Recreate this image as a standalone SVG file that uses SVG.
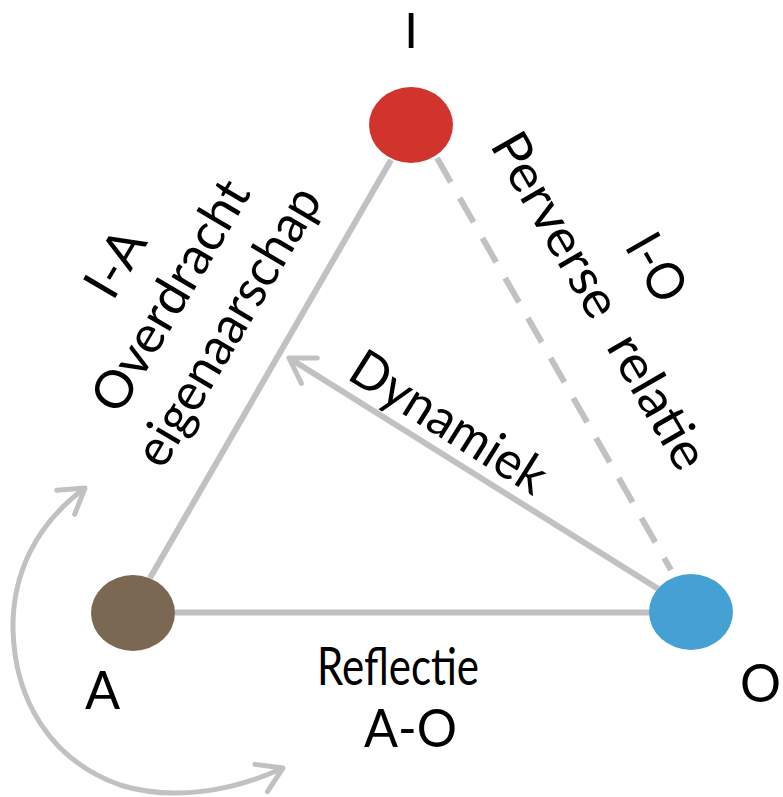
<svg xmlns="http://www.w3.org/2000/svg" width="783" height="797" viewBox="0 0 783 797">
<style>
.lbl{font-family:Lato,"Open Sans","DejaVu Sans",sans-serif;font-size:52px;fill:#000;}
.edge{stroke:#c0c1c3;stroke-width:6;fill:none;}
.thin{stroke:#c0c1c3;stroke-width:5;fill:none;}
</style>
<defs>
<marker id="chev" viewBox="-30 -20 40 40" markerWidth="40" markerHeight="40" refX="0" refY="0" orient="auto" markerUnits="userSpaceOnUse">
<path d="M -24 -15 L 0 0 L -24 15" fill="none" stroke="#c0c1c3" stroke-width="5" stroke-linecap="round" stroke-linejoin="round"/>
</marker>
<marker id="chevs" viewBox="-30 -20 40 40" markerWidth="40" markerHeight="40" refX="0" refY="0" orient="auto-start-reverse" markerUnits="userSpaceOnUse">
<path d="M -24 -15 L 0 0 L -24 15" fill="none" stroke="#c0c1c3" stroke-width="5" stroke-linecap="round" stroke-linejoin="round"/>
</marker>
</defs>
<rect width="783" height="797" fill="#fff"/>
<g id="connectors">
<line class="edge" x1="150" y1="578" x2="391" y2="160"/>
<line class="edge" x1="175" y1="612.5" x2="650" y2="612.5"/>
<line class="edge" x1="437" y1="158" x2="671" y2="570" stroke-dasharray="28 18"/>
<line class="edge" x1="660" y1="590" x2="289" y2="358" marker-end="url(#chev)"/>
<path class="thin" d="M 85 488 C 35 525 12 575 13 630 C 15 700 50 760 120 785 C 175 802 235 790 283 768" marker-start="url(#chevs)" marker-end="url(#chevs)"/>
</g>
<g id="node-I">
<ellipse cx="411" cy="125" rx="42" ry="38" fill="#d1342d"/>
<text class="lbl" x="411" y="48" text-anchor="middle" style="font-size:49px">I</text>
</g>
<g id="node-A">
<ellipse cx="133" cy="613" rx="42" ry="38" fill="#7b6852"/>
<text class="lbl" x="102.5" y="709" text-anchor="middle">A</text>
</g>
<g id="node-O">
<ellipse cx="691" cy="612" rx="42" ry="38" fill="#45a1d4"/>
<text class="lbl" x="740" y="702" textLength="41" lengthAdjust="spacingAndGlyphs">O</text>
</g>
<g id="label-IA" transform="translate(171,296) rotate(-59.4)">
<text class="lbl" x="0" y="-47" text-anchor="middle" textLength="70" lengthAdjust="spacingAndGlyphs">I-A</text>
<text class="lbl" x="0" y="17" text-anchor="middle" textLength="260" lengthAdjust="spacingAndGlyphs">Overdracht</text>
<text class="lbl" x="3" y="82" text-anchor="middle" textLength="315" lengthAdjust="spacingAndGlyphs">eigenaarschap</text>
</g>
<g id="label-IO" transform="translate(627.5,284.5) rotate(60)">
<text class="lbl" x="0" y="-16" text-anchor="middle" textLength="70" lengthAdjust="spacingAndGlyphs">I-O</text>
<text class="lbl" x="0" y="50" text-anchor="middle" textLength="380" lengthAdjust="spacingAndGlyphs" xml:space="preserve">Perverse  relatie</text>
</g>
<g id="label-dyn" transform="translate(449,422) rotate(32.2)">
<text class="lbl" x="0" y="18" text-anchor="middle" textLength="222" lengthAdjust="spacingAndGlyphs">Dynamiek</text>
</g>
<g id="label-AO">
<text class="lbl" x="398" y="685" text-anchor="middle" textLength="162" lengthAdjust="spacingAndGlyphs">Reflectie</text>
<text class="lbl" x="410.5" y="747" text-anchor="middle" textLength="93" lengthAdjust="spacingAndGlyphs">A-O</text>
</g>
</svg>
